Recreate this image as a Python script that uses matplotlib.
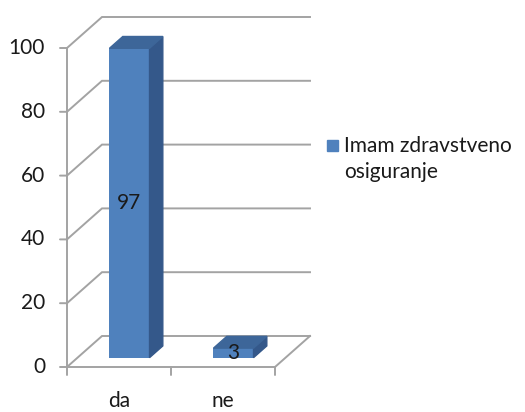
import matplotlib
matplotlib.use("Agg")
import matplotlib.pyplot as plt
from matplotlib.patches import Polygon, Rectangle

plt.rcParams['font.family'] = ['Lato', 'DejaVu Sans']

categories = ["da", "ne"]
values = [97, 3]
series_name = "Imam zdravstveno\nosiguranje"
yticks = [0, 20, 40, 60, 80, 100]

FRONT = "#4F81BD"
SIDE = "#34588A"
TOP = "#3D6699"
GRID = "#A3A3A3"
TXT = "#1A1A1A"

fig = plt.figure(figsize=(5.25, 4.12), dpi=100)
ax = fig.add_axes([67/525, 45/412, 208/525, 319/412])
ax.set_xlim(-0.5, 1.5)
ax.set_ylim(0, 100)
ax.axis("off")

# depth offsets in data units (full depth)
DX = 35/104
DY = 31/3.19
f0, f1 = 0.30, 0.68
w = 0.385

# walls / gridlines
for t in yticks:
    ax.plot([-0.5, -0.5 + DX, 1.5 + DX], [t, t + DY, t + DY], color=GRID, lw=1.4,
            clip_on=False, solid_joinstyle='miter')
# floor
ax.plot([-0.5, 1.5, 1.5 + DX], [0, 0, DY], color=GRID, lw=1.4, clip_on=False)
# front axis
ax.plot([-0.5, -0.5], [0, 100], color=GRID, lw=1.4, clip_on=False)

# ticks
for t in yticks:
    ax.annotate("", xy=(-0.5, t), xytext=(-7, 0), textcoords='offset pixels',
                arrowprops=dict(arrowstyle='-', color=GRID, lw=1.4, shrinkA=0, shrinkB=0))
    ax.annotate(str(t), xy=(-0.5, t), xytext=(-22, 0), textcoords='offset pixels',
                ha='right', va='center', fontsize=15, color=TXT)
for xb in [-0.5, 0.5, 1.5]:
    ax.annotate("", xy=(xb, 0), xytext=(0, -8), textcoords='offset pixels',
                arrowprops=dict(arrowstyle='-', color=GRID, lw=1.4, shrinkA=0, shrinkB=0))
for i, c in enumerate(categories):
    ax.annotate(c, xy=(i, 0), xytext=(0, -34), textcoords='offset pixels',
                ha='center', va='center', fontsize=15, color=TXT)

# bars
pos = [i for i in range(len(categories))]
xs = [p + f0*DX for p in pos]
ax.bar(xs, values, width=w, bottom=f0*DY, color=FRONT, clip_on=False, zorder=3)
for p, v in zip(pos, values):
    x0 = p - w/2 + f0*DX
    x1 = p + w/2 + f0*DX
    yb = f0*DY
    yt = f0*DY + v
    ddx = (f1 - f0)*DX
    ddy = (f1 - f0)*DY
    side = Polygon([(x1, yb), (x1 + ddx, yb + ddy), (x1 + ddx, yt + ddy), (x1, yt)],
                   closed=True, color=SIDE, clip_on=False, zorder=3)
    top = Polygon([(x0, yt), (x0 + ddx, yt + ddy), (x1 + ddx, yt + ddy), (x1, yt)],
                  closed=True, color=TOP, clip_on=False, zorder=3)
    ax.add_patch(side)
    ax.add_patch(top)
    ax.text(p + f0*DX, yb + v/2, str(v), ha='center', va='center', fontsize=15,
            color=TXT, zorder=4, clip_on=False)

# legend
fig.patches.append(Rectangle((327/525, (412-151)/412), 11/525, 11/412,
                             transform=fig.transFigure, color=FRONT))
fig.text(344/525, (412-159)/412, series_name, ha='left', va='center', fontsize=15,
         color=TXT, linespacing=1.35)

fig.savefig("out.png", dpi=100)
